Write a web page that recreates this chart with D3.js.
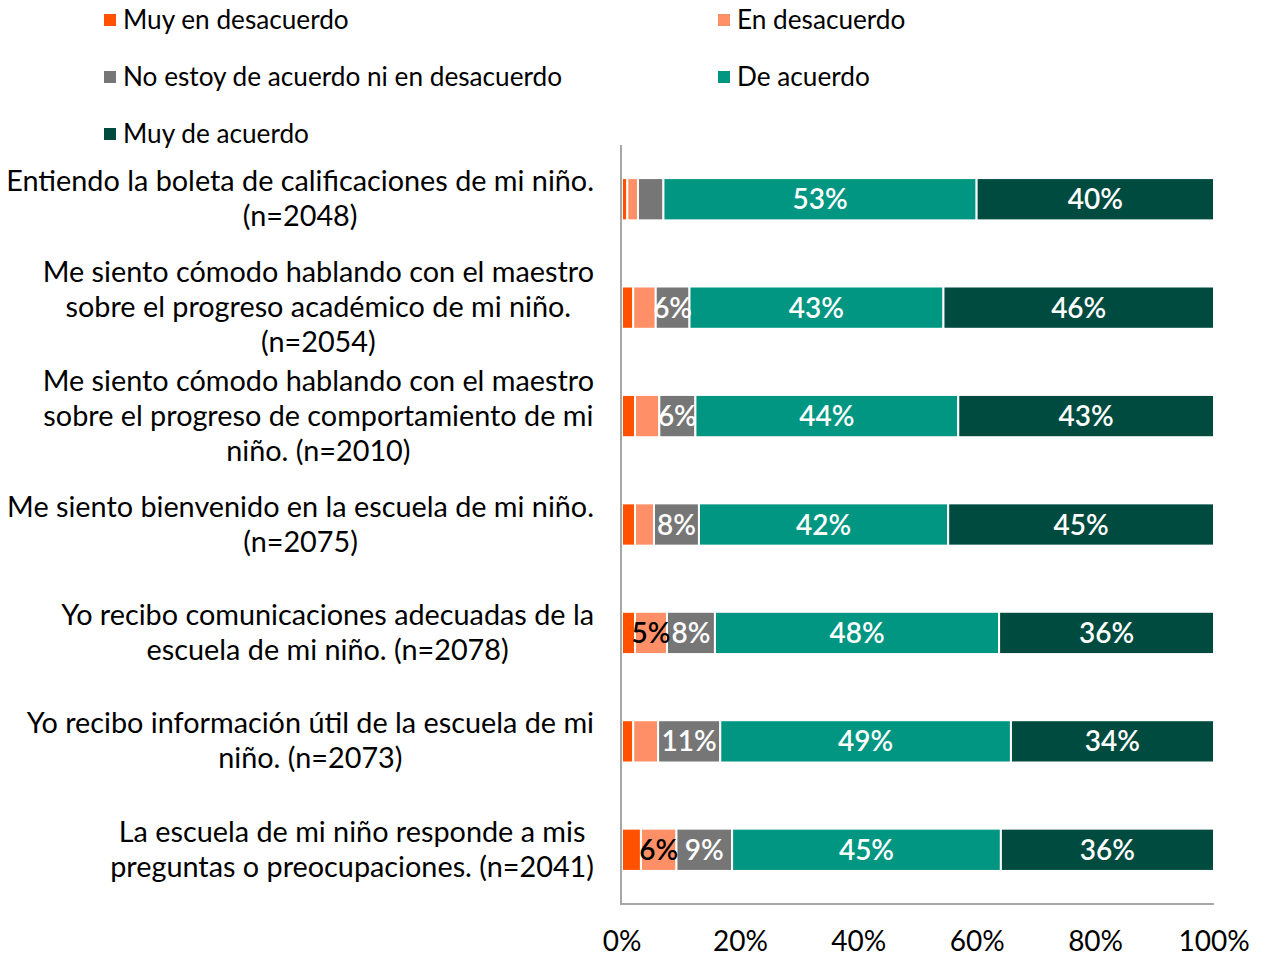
<!DOCTYPE html>
<html>
<head>
<meta charset="utf-8">
<script src="https://cdn.jsdelivr.net/npm/d3@7"></script>
<style>
  body { margin: 0; background: #fff; }
  text { font-family: Lato, "Open Sans", sans-serif; }
</style>
</head>
<body>
<script>
// data (percent of respondents)
const questions = [
  ["Entiendo la boleta de calificaciones de mi niño.", "(n=2048)"],
  ["Me siento cómodo hablando con el maestro", "sobre el progreso académico de mi niño.", "(n=2054)"],
  ["Me siento cómodo hablando con el maestro", "sobre el progreso de comportamiento de mi", "niño. (n=2010)"],
  ["Me siento bienvenido en la escuela de mi niño.", "(n=2075)"],
  ["Yo recibo comunicaciones adecuadas de la", "escuela de mi niño. (n=2078)"],
  ["Yo recibo información útil de la escuela de mi", "niño. (n=2073)"],
  ["La escuela de mi niño responde a mis", "preguntas o preocupaciones. (n=2041)"]
];
const seriesNames = ["Muy en desacuerdo", "En desacuerdo", "No estoy de acuerdo ni en desacuerdo", "De acuerdo", "Muy de acuerdo"];
const muyEnDesacuerdo = [0.9, 1.9, 2.2, 2.2, 2.2, 1.9, 3.2];
const enDesacuerdo    = [1.8, 3.8, 4.1, 3.2, 5.4, 4.2, 6.0];
const neutral         = [4.3, 5.7, 6.1, 7.6, 8.1, 10.5, 9.4];
const deAcuerdo       = [52.9, 42.9, 44.4, 42.1, 48.0, 49.1, 45.4];
const muyDeAcuerdo    = [40.1, 45.7, 43.2, 44.9, 36.3, 34.3, 36.0];
const xTicks = [0, 20, 40, 60, 80, 100];

const colors = ["#FF5100", "#FF8F66", "#767676", "#009682", "#004B40"];
const labelColors = ["#fff", "#000", "#fff", "#fff", "#fff"];

const W = 1267, H = 956;
const svg = d3.select("body").append("svg").attr("width", W).attr("height", H);

const rows = questions.map((q, i) => ({
  q: q, idx: i,
  vals: [muyEnDesacuerdo[i], enDesacuerdo[i], neutral[i], deAcuerdo[i], muyDeAcuerdo[i]]
}));

const x = d3.scaleLinear().domain([0, 100]).range([622, 1214]);
const y = d3.scaleBand().domain(d3.range(questions.length)).range([145, 904]).paddingInner(0.61).paddingOuter(0.305);

// legend
const legendPos = [[104, 20], [718, 20], [104, 77], [718, 77], [104, 134]];
const leg = svg.append("g").selectAll("g").data(seriesNames).enter().append("g")
  .attr("transform", (d, i) => `translate(${legendPos[i][0]},${legendPos[i][1]})`);
leg.append("rect").attr("x", 0).attr("y", -6).attr("width", 12).attr("height", 12)
  .attr("fill", (d, i) => colors[i]);
leg.append("text").attr("x", 19).attr("y", 0).attr("dy", "0.35em")
  .attr("font-size", "26.2px").attr("fill", "#000").text(d => d);

// bars
const stackData = rows.map(r => {
  let acc = 0;
  return r.vals.map((v, k) => { const s = { i: r.idx, k: k, v: v, x0: acc, x1: acc + v }; acc += v; return s; });
});
const segs = svg.append("g").selectAll("g").data(stackData).enter().append("g");
segs.selectAll("rect").data(d => d).enter().append("rect")
  .attr("x", d => x(d.x0))
  .attr("y", d => y(d.i))
  .attr("width", d => Math.max(0, x(d.x1) - x(d.x0)))
  .attr("height", y.bandwidth())
  .attr("fill", d => colors[d.k])
  .attr("stroke", "#fff").attr("stroke-width", 2);

segs.selectAll("text").data(d => d.filter(s => Math.round(s.v) >= 5)).enter().append("text")
  .attr("x", d => (x(d.x0) + x(d.x1)) / 2)
  .attr("y", d => y(d.i) + y.bandwidth() / 2)
  .attr("dy", "0.36em")
  .attr("text-anchor", "middle")
  .attr("font-size", "28px")
  .attr("font-weight", 600)
  .attr("fill", d => labelColors[d.k])
  .text(d => Math.round(d.v) + "%");

// axis lines
svg.append("line").attr("x1", 621).attr("x2", 621).attr("y1", 145).attr("y2", 905)
  .attr("stroke", "#A6A6A6").attr("stroke-width", 2);
svg.append("line").attr("x1", 620).attr("x2", 1214).attr("y1", 904).attr("y2", 904)
  .attr("stroke", "#A6A6A6").attr("stroke-width", 2);

// x tick labels
svg.append("g").selectAll("text").data(xTicks).enter().append("text")
  .attr("x", d => x(d)).attr("y", 941).attr("dy", "0.35em")
  .attr("text-anchor", "middle").attr("font-size", "28px").attr("fill", "#000")
  .text(d => d + "%");

// category labels: block right-aligned at 594, lines centered in block
const labG = svg.append("g");
rows.forEach(r => {
  const g = labG.append("g");
  const cy = y(r.idx) + y.bandwidth() / 2;
  const n = r.q.length;
  const texts = r.q.map((line, j) => g.append("text")
    .attr("y", cy + (j - (n - 1) / 2) * 35 - 0.5)
    .attr("dy", "0.35em")
    .attr("text-anchor", "middle")
    .attr("font-size", "28.8px").attr("fill", "#000")
    .text(line));
  const maxW = d3.max(texts, t => t.node().getComputedTextLength());
  texts.forEach(t => t.attr("x", 594 - maxW / 2));
});
</script>
</body>
</html>
